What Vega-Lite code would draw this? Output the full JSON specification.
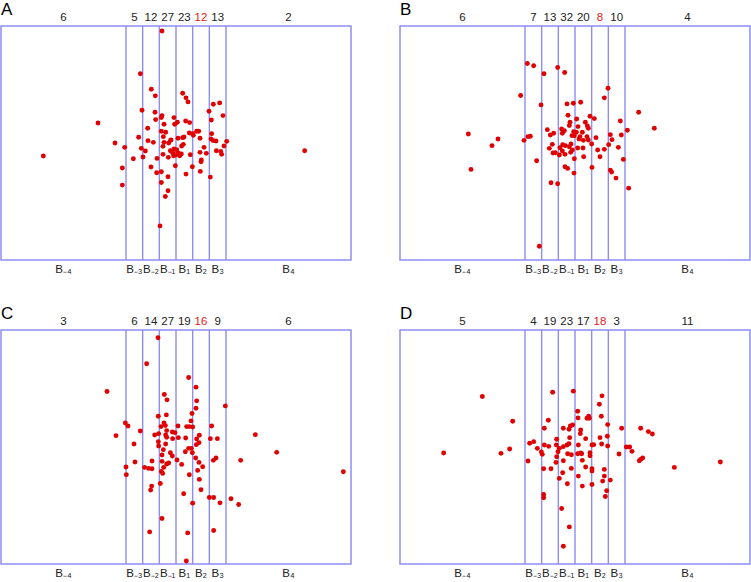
{
"$schema": "https://vega.github.io/schema/vega-lite/v6.json",
"background": "white",
"padding": {"left": 0, "top": 0, "right": 0, "bottom": 0},
"config": {
 "view": {"stroke": "#8d8df2", "strokeWidth": 1.5},
 "title": {"anchor": "start", "frame": "group", "fontSize": 17, "fontWeight": "normal", "font": "Liberation Sans", "color": "#000000", "offset": -7},
 "text": {"font": "Liberation Sans"}
},
"datasets": {
 "lines": [{"x": -3}, {"x": -2}, {"x": -1}, {"x": 0}, {"x": 1}, {"x": 2}, {"x": 3}],
 "bins": [
  {"panel": "A", "x": -6.75, "label": "B₋₄", "n": 6}, {"panel": "A", "x": -2.5, "label": "B₋₃", "n": 5}, {"panel": "A", "x": -1.5, "label": "B₋₂", "n": 12}, {"panel": "A", "x": -0.5, "label": "B₋₁", "n": 27}, {"panel": "A", "x": 0.5, "label": "B₁", "n": 23}, {"panel": "A", "x": 1.5, "label": "B₂", "n": 12}, {"panel": "A", "x": 2.5, "label": "B₃", "n": 13}, {"panel": "A", "x": 6.75, "label": "B₄", "n": 2},
  {"panel": "B", "x": -6.75, "label": "B₋₄", "n": 6}, {"panel": "B", "x": -2.5, "label": "B₋₃", "n": 7}, {"panel": "B", "x": -1.5, "label": "B₋₂", "n": 13}, {"panel": "B", "x": -0.5, "label": "B₋₁", "n": 32}, {"panel": "B", "x": 0.5, "label": "B₁", "n": 20}, {"panel": "B", "x": 1.5, "label": "B₂", "n": 8}, {"panel": "B", "x": 2.5, "label": "B₃", "n": 10}, {"panel": "B", "x": 6.75, "label": "B₄", "n": 4},
  {"panel": "C", "x": -6.75, "label": "B₋₄", "n": 3}, {"panel": "C", "x": -2.5, "label": "B₋₃", "n": 6}, {"panel": "C", "x": -1.5, "label": "B₋₂", "n": 14}, {"panel": "C", "x": -0.5, "label": "B₋₁", "n": 27}, {"panel": "C", "x": 0.5, "label": "B₁", "n": 19}, {"panel": "C", "x": 1.5, "label": "B₂", "n": 16}, {"panel": "C", "x": 2.5, "label": "B₃", "n": 9}, {"panel": "C", "x": 6.75, "label": "B₄", "n": 6},
  {"panel": "D", "x": -6.75, "label": "B₋₄", "n": 5}, {"panel": "D", "x": -2.5, "label": "B₋₃", "n": 4}, {"panel": "D", "x": -1.5, "label": "B₋₂", "n": 19}, {"panel": "D", "x": -0.5, "label": "B₋₁", "n": 23}, {"panel": "D", "x": 0.5, "label": "B₁", "n": 17}, {"panel": "D", "x": 1.5, "label": "B₂", "n": 18}, {"panel": "D", "x": 2.5, "label": "B₃", "n": 3}, {"panel": "D", "x": 6.75, "label": "B₄", "n": 11}
 ],
 "points": [
  {"panel":"A","x":-0.84,"y":6.7},{"panel":"A","x":-2.14,"y":4.14},{"panel":"A","x":-1.48,"y":3.22},{"panel":"A","x":-1.24,"y":2.82},{"panel":"A","x":0.4,"y":2.98},{"panel":"A","x":0.6,"y":2.7},{"panel":"A","x":0.72,"y":2.46},{"panel":"A","x":2.24,"y":2.32},{"panel":"A","x":2.62,"y":2.4},{"panel":"A","x":1.98,"y":1.9},{"panel":"A","x":2.82,"y":1.64},{"panel":"A","x":-2.04,"y":1.96},{"panel":"A","x":-1.26,"y":1.84},{"panel":"A","x":-1.22,"y":1.4},{"panel":"A","x":-0.84,"y":1.64},{"panel":"A","x":-0.88,"y":1.52},{"panel":"A","x":-0.72,"y":1.12},{"panel":"A","x":-0.12,"y":1.52},{"panel":"A","x":0.08,"y":1.24},{"panel":"A","x":-0.08,"y":1.12},{"panel":"A","x":0.58,"y":1.32},{"panel":"A","x":0.82,"y":1.22},{"panel":"A","x":-4.68,"y":1.2},{"panel":"A","x":-1.7,"y":0.88},{"panel":"A","x":-2.24,"y":0.34},{"panel":"A","x":-1.68,"y":0.14},{"panel":"A","x":-1.36,"y":0.04},{"panel":"A","x":-0.88,"y":0.7},{"panel":"A","x":-0.62,"y":0.64},{"panel":"A","x":-3.66,"y":0},{"panel":"A","x":-3.08,"y":-0.26},{"panel":"A","x":-2.08,"y":-0.32},{"panel":"A","x":-1.84,"y":-0.48},{"panel":"A","x":-1.98,"y":-0.84},{"panel":"A","x":-2.56,"y":-0.94},{"panel":"A","x":-3.22,"y":-1.5},{"panel":"A","x":-3.22,"y":-2.52},{"panel":"A","x":-7.96,"y":-0.78},{"panel":"A","x":7.72,"y":-0.46},{"panel":"A","x":-1.5,"y":-1.44},{"panel":"A","x":-1.14,"y":-0.92},{"panel":"A","x":-1.16,"y":-1.78},{"panel":"A","x":-0.88,"y":-1.72},{"panel":"A","x":-0.88,"y":-2.36},{"panel":"A","x":-0.48,"y":-2.02},{"panel":"A","x":-0.48,"y":-2.86},{"panel":"A","x":-0.64,"y":-3.2},{"panel":"A","x":-0.96,"y":-4.96},{"panel":"A","x":-0.04,"y":-1.36},{"panel":"A","x":0.6,"y":-1.86},{"panel":"A","x":0.98,"y":-1.42},{"panel":"A","x":0.86,"y":-0.7},{"panel":"A","x":1.46,"y":-1.7},{"panel":"A","x":1.5,"y":-1.12},{"panel":"A","x":1.52,"y":-1.02},{"panel":"A","x":2.06,"y":-2.04},{"panel":"A","x":1.44,"y":-0.56},{"panel":"A","x":1.82,"y":-0.62},{"panel":"A","x":1.68,"y":-0.26},{"panel":"A","x":1.44,"y":0.28},{"panel":"A","x":1.24,"y":0.7},{"panel":"A","x":1.36,"y":0.7},{"panel":"A","x":1.0,"y":0.56},{"panel":"A","x":0.8,"y":0.6},{"panel":"A","x":1.04,"y":0.46},{"panel":"A","x":2.14,"y":0.56},{"panel":"A","x":2.1,"y":0.24},{"panel":"A","x":2.24,"y":0.14},{"panel":"A","x":2.4,"y":0.12},{"panel":"A","x":2.42,"y":-0.46},{"panel":"A","x":2.68,"y":-0.5},{"panel":"A","x":2.74,"y":-0.68},{"panel":"A","x":2.88,"y":-0.18},{"panel":"A","x":3.04,"y":0.1},{"panel":"A","x":2.12,"y":1.38},{"panel":"A","x":0.4,"y":0.32},{"panel":"A","x":0.48,"y":0.36},{"panel":"A","x":0.44,"y":-0.08},{"panel":"A","x":0.34,"y":-0.18},{"panel":"A","x":0.12,"y":0.28},{"panel":"A","x":-0.32,"y":0.16},{"panel":"A","x":-0.44,"y":0},{"panel":"A","x":-0.72,"y":0.04},{"panel":"A","x":-0.78,"y":-0.2},{"panel":"A","x":-0.78,"y":-0.68},{"panel":"A","x":-0.34,"y":-0.46},{"panel":"A","x":-0.2,"y":-0.6},{"panel":"A","x":-0.12,"y":-0.36},{"panel":"A","x":0.04,"y":-0.4},{"panel":"A","x":0.14,"y":-0.6},{"panel":"A","x":0.32,"y":-0.66},{"panel":"A","x":0,"y":-0.7},{"panel":"A","x":0.22,"y":-0.76},{"panel":"A","x":-0.14,"y":-0.76},{"panel":"A","x":-0.46,"y":-0.86},{"panel":"A","x":-0.76,"y":0.38},{"panel":"A","x":-0.3,"y":0.18},
  {"panel":"B","x":-2.86,"y":4.76},{"panel":"B","x":-2.48,"y":4.62},{"panel":"B","x":-1.86,"y":4.14},{"panel":"B","x":-1.04,"y":4.52},{"panel":"B","x":-0.62,"y":4.22},{"panel":"B","x":1.98,"y":3.28},{"panel":"B","x":1.76,"y":2.7},{"panel":"B","x":-3.26,"y":2.84},{"panel":"B","x":-2.04,"y":2.28},{"panel":"B","x":-0.48,"y":2.34},{"panel":"B","x":-0.1,"y":2.38},{"panel":"B","x":0.34,"y":2.44},{"panel":"B","x":3.82,"y":1.84},{"panel":"B","x":4.76,"y":0.88},{"panel":"B","x":-6.4,"y":0.54},{"panel":"B","x":-6.24,"y":-1.58},{"panel":"B","x":-4.98,"y":-0.16},{"panel":"B","x":-4.62,"y":0.24},{"panel":"B","x":-3.06,"y":0.16},{"panel":"B","x":-2.82,"y":0.38},{"panel":"B","x":-2.68,"y":0.4},{"panel":"B","x":-2.3,"y":-1.06},{"panel":"B","x":-2.14,"y":-6.18},{"panel":"B","x":-1.44,"y":-2.38},{"panel":"B","x":-1.04,"y":-2.44},{"panel":"B","x":-1.66,"y":0.8},{"panel":"B","x":-1.48,"y":0.48},{"panel":"B","x":-1.28,"y":0.58},{"panel":"B","x":-1.36,"y":-0.08},{"panel":"B","x":-1.54,"y":-0.32},{"panel":"B","x":-1.32,"y":-0.6},{"panel":"B","x":-1.18,"y":-0.58},{"panel":"B","x":-0.94,"y":-0.72},{"panel":"B","x":-0.8,"y":0.84},{"panel":"B","x":-0.76,"y":0.58},{"panel":"B","x":-0.64,"y":0.74},{"panel":"B","x":-0.42,"y":1.66},{"panel":"B","x":-0.3,"y":1.24},{"panel":"B","x":-0.34,"y":1.04},{"panel":"B","x":0.1,"y":1.44},{"panel":"B","x":0.18,"y":0.98},{"panel":"B","x":-0.08,"y":0.68},{"panel":"B","x":-0.18,"y":0.44},{"panel":"B","x":-0.04,"y":0.44},{"panel":"B","x":-0.74,"y":-0.1},{"panel":"B","x":-0.58,"y":-0.16},{"panel":"B","x":-0.9,"y":-0.28},{"panel":"B","x":-0.76,"y":-0.48},{"panel":"B","x":-0.6,"y":-0.68},{"panel":"B","x":-0.34,"y":-0.22},{"panel":"B","x":-0.24,"y":-0.06},{"panel":"B","x":-0.16,"y":-0.42},{"panel":"B","x":-0.26,"y":-0.56},{"panel":"B","x":-0.04,"y":-0.94},{"panel":"B","x":-0.6,"y":-1.42},{"panel":"B","x":-0.44,"y":-1.52},{"panel":"B","x":-0.06,"y":-1.8},{"panel":"B","x":0.3,"y":0.38},{"panel":"B","x":0.44,"y":0.64},{"panel":"B","x":0.62,"y":1.24},{"panel":"B","x":0.74,"y":1.02},{"panel":"B","x":0.8,"y":0.88},{"panel":"B","x":0.9,"y":1.6},{"panel":"B","x":1.16,"y":1.46},{"panel":"B","x":0.72,"y":0.38},{"panel":"B","x":0.8,"y":0.18},{"panel":"B","x":1.0,"y":-0.06},{"panel":"B","x":1.26,"y":0.32},{"panel":"B","x":0.48,"y":-0.3},{"panel":"B","x":0.52,"y":-0.82},{"panel":"B","x":1.02,"y":-1.46},{"panel":"B","x":1.36,"y":-0.42},{"panel":"B","x":1.5,"y":-0.82},{"panel":"B","x":1.76,"y":-0.38},{"panel":"B","x":2.02,"y":-0.1},{"panel":"B","x":2.12,"y":0.5},{"panel":"B","x":2.22,"y":0.2},{"panel":"B","x":2.72,"y":1.32},{"panel":"B","x":2.78,"y":0.48},{"panel":"B","x":3.14,"y":0.76},{"panel":"B","x":2.6,"y":-0.26},{"panel":"B","x":2.9,"y":-0.98},{"panel":"B","x":2.12,"y":-1.62},{"panel":"B","x":2.2,"y":-1.74},{"panel":"B","x":2.46,"y":-2.1},{"panel":"B","x":3.22,"y":-2.7},{"panel":"B","x":0.08,"y":0.64},{"panel":"B","x":0.24,"y":0.24},{"panel":"B","x":0.5,"y":0.16},{"panel":"B","x":0.16,"y":-0.3},
  {"panel":"C","x":-1.08,"y":6.54},{"panel":"C","x":-1.76,"y":4.98},{"panel":"C","x":0.76,"y":4.16},{"panel":"C","x":1.2,"y":3.58},{"panel":"C","x":-4.14,"y":3.32},{"panel":"C","x":-0.7,"y":3.14},{"panel":"C","x":-0.54,"y":2.82},{"panel":"C","x":1.24,"y":2.76},{"panel":"C","x":2.96,"y":2.46},{"panel":"C","x":1.2,"y":2.32},{"panel":"C","x":0.96,"y":2.0},{"panel":"C","x":-1.06,"y":1.84},{"panel":"C","x":-0.58,"y":1.92},{"panel":"C","x":0.9,"y":1.56},{"panel":"C","x":-3.04,"y":1.44},{"panel":"C","x":-2.88,"y":1.26},{"panel":"C","x":-3.6,"y":0.68},{"panel":"C","x":-2.14,"y":0.96},{"panel":"C","x":-2.52,"y":0.18},{"panel":"C","x":-2.46,"y":-0.9},{"panel":"C","x":-3.0,"y":-1.2},{"panel":"C","x":-2.98,"y":-1.66},{"panel":"C","x":-0.72,"y":1.44},{"panel":"C","x":-0.64,"y":1.28},{"panel":"C","x":-0.9,"y":1.22},{"panel":"C","x":-1.04,"y":0.8},{"panel":"C","x":-1.28,"y":0.72},{"panel":"C","x":-0.62,"y":0.72},{"panel":"C","x":-0.56,"y":0.58},{"panel":"C","x":-0.22,"y":0.9},{"panel":"C","x":-0.06,"y":0.86},{"panel":"C","x":0.12,"y":1.26},{"panel":"C","x":0.14,"y":0.56},{"panel":"C","x":-0.2,"y":0.5},{"panel":"C","x":0.64,"y":1.22},{"panel":"C","x":0.8,"y":1.22},{"panel":"C","x":1.0,"y":1.2},{"panel":"C","x":0.58,"y":0.54},{"panel":"C","x":1.4,"y":0.7},{"panel":"C","x":1.24,"y":0.48},{"panel":"C","x":1.38,"y":0.26},{"panel":"C","x":1.22,"y":0.14},{"panel":"C","x":-1.06,"y":0.32},{"panel":"C","x":-1.04,"y":0.06},{"panel":"C","x":-0.62,"y":0.18},{"panel":"C","x":-0.76,"y":-0.16},{"panel":"C","x":-0.34,"y":-0.34},{"panel":"C","x":-0.22,"y":-0.54},{"panel":"C","x":-0.84,"y":-0.48},{"panel":"C","x":-0.84,"y":-0.86},{"panel":"C","x":-0.56,"y":-1.02},{"panel":"C","x":-0.44,"y":-0.96},{"panel":"C","x":-0.74,"y":-1.22},{"panel":"C","x":-0.88,"y":-1.46},{"panel":"C","x":-0.8,"y":-1.58},{"panel":"C","x":-1.44,"y":-0.84},{"panel":"C","x":-1.88,"y":-1.22},{"panel":"C","x":-1.64,"y":-1.28},{"panel":"C","x":-1.44,"y":-1.3},{"panel":"C","x":0.06,"y":-0.78},{"panel":"C","x":0.34,"y":-1.04},{"panel":"C","x":0.56,"y":-0.28},{"panel":"C","x":0.76,"y":-0.08},{"panel":"C","x":0.98,"y":-0.34},{"panel":"C","x":1.18,"y":-0.66},{"panel":"C","x":1.38,"y":-0.92},{"panel":"C","x":1.6,"y":-1.18},{"panel":"C","x":1.3,"y":-1.4},{"panel":"C","x":1.4,"y":-1.94},{"panel":"C","x":1.5,"y":-2.56},{"panel":"C","x":0.8,"y":-1.66},{"panel":"C","x":0.46,"y":-2.8},{"panel":"C","x":1.0,"y":-3.36},{"panel":"C","x":-0.94,"y":-2.18},{"panel":"C","x":-1.46,"y":-2.34},{"panel":"C","x":-1.52,"y":-2.58},{"panel":"C","x":-0.84,"y":-4.28},{"panel":"C","x":-1.58,"y":-5.08},{"panel":"C","x":0.7,"y":-5.14},{"panel":"C","x":0.62,"y":-6.82},{"panel":"C","x":2.14,"y":1.26},{"panel":"C","x":2.06,"y":0.5},{"panel":"C","x":2.48,"y":0.5},{"panel":"C","x":2.24,"y":-0.8},{"panel":"C","x":2.4,"y":-0.66},{"panel":"C","x":2.0,"y":-3.02},{"panel":"C","x":2.26,"y":-3.02},{"panel":"C","x":2.64,"y":-3.34},{"panel":"C","x":3.3,"y":-3.1},{"panel":"C","x":3.76,"y":-3.44},{"panel":"C","x":2.26,"y":-5.0},{"panel":"C","x":3.88,"y":-0.8},{"panel":"C","x":4.76,"y":0.74},{"panel":"C","x":6.04,"y":-0.32},{"panel":"C","x":10.04,"y":-1.48},{"panel":"C","x":-0.56,"y":0.98},{"panel":"C","x":0.92,"y":-0.08},
  {"panel":"D","x":-5.56,"y":3.02},{"panel":"D","x":-1.34,"y":3.28},{"panel":"D","x":-0.1,"y":3.34},{"panel":"D","x":1.62,"y":3.06},{"panel":"D","x":1.46,"y":2.56},{"panel":"D","x":1.58,"y":1.84},{"panel":"D","x":0.16,"y":2.14},{"panel":"D","x":0.18,"y":1.74},{"panel":"D","x":0.72,"y":1.72},{"panel":"D","x":0.82,"y":1.84},{"panel":"D","x":0.86,"y":1.72},{"panel":"D","x":-3.74,"y":1.54},{"panel":"D","x":-1.6,"y":1.6},{"panel":"D","x":-1.84,"y":1.12},{"panel":"D","x":-0.7,"y":1.12},{"panel":"D","x":-0.36,"y":1.06},{"panel":"D","x":-0.28,"y":1.26},{"panel":"D","x":-0.14,"y":1.32},{"panel":"D","x":0.34,"y":1.02},{"panel":"D","x":0.32,"y":0.8},{"panel":"D","x":0.64,"y":0.5},{"panel":"D","x":1.96,"y":1.34},{"panel":"D","x":2.8,"y":1.12},{"panel":"D","x":3.94,"y":1.12},{"panel":"D","x":4.4,"y":0.92},{"panel":"D","x":4.64,"y":0.78},{"panel":"D","x":-0.32,"y":0.56},{"panel":"D","x":-0.36,"y":0.2},{"panel":"D","x":-0.48,"y":0.12},{"panel":"D","x":-0.7,"y":0.02},{"panel":"D","x":-1.1,"y":0.46},{"panel":"D","x":-1.12,"y":0.12},{"panel":"D","x":-1.02,"y":-0.28},{"panel":"D","x":-1.1,"y":-0.58},{"panel":"D","x":-1.14,"y":-0.92},{"panel":"D","x":-0.94,"y":-0.08},{"panel":"D","x":-2.72,"y":0.22},{"panel":"D","x":-2.48,"y":0.32},{"panel":"D","x":-2.26,"y":-0.08},{"panel":"D","x":-2.02,"y":-0.3},{"panel":"D","x":-1.96,"y":-0.44},{"panel":"D","x":-1.84,"y":0.12},{"panel":"D","x":-1.58,"y":0.04},{"panel":"D","x":-2.82,"y":-0.84},{"panel":"D","x":-4.44,"y":-0.38},{"panel":"D","x":-3.92,"y":-0.12},{"panel":"D","x":-7.88,"y":-0.36},{"panel":"D","x":-1.88,"y":-1.3},{"panel":"D","x":-1.44,"y":-1.3},{"panel":"D","x":-1.88,"y":-2.84},{"panel":"D","x":-1.88,"y":-3.04},{"panel":"D","x":-0.94,"y":-1.88},{"panel":"D","x":-0.74,"y":-1.54},{"panel":"D","x":-0.7,"y":-0.82},{"panel":"D","x":-0.46,"y":-2.2},{"panel":"D","x":-0.8,"y":-3.68},{"panel":"D","x":-0.34,"y":-4.78},{"panel":"D","x":-0.7,"y":-5.94},{"panel":"D","x":-0.44,"y":-0.4},{"panel":"D","x":-0.22,"y":-0.46},{"panel":"D","x":-0.22,"y":-1.28},{"panel":"D","x":0.2,"y":0.12},{"panel":"D","x":0.16,"y":-0.4},{"panel":"D","x":0.4,"y":-0.4},{"panel":"D","x":0.44,"y":-0.8},{"panel":"D","x":0.64,"y":-1.2},{"panel":"D","x":0.2,"y":-1.74},{"panel":"D","x":0.44,"y":-2.34},{"panel":"D","x":0.9,"y":-0.34},{"panel":"D","x":0.9,"y":-0.52},{"panel":"D","x":1.02,"y":0.12},{"panel":"D","x":1.12,"y":0.14},{"panel":"D","x":1.02,"y":-1.3},{"panel":"D","x":1.02,"y":-1.44},{"panel":"D","x":1.02,"y":-2.24},{"panel":"D","x":1.5,"y":0.56},{"panel":"D","x":1.6,"y":0.18},{"panel":"D","x":1.94,"y":0.64},{"panel":"D","x":1.96,"y":0.06},{"panel":"D","x":1.76,"y":-1.34},{"panel":"D","x":1.76,"y":-1.74},{"panel":"D","x":1.66,"y":-2.04},{"panel":"D","x":2.12,"y":-1.98},{"panel":"D","x":1.9,"y":-2.62},{"panel":"D","x":1.82,"y":-2.96},{"panel":"D","x":2.64,"y":-0.42},{"panel":"D","x":3.08,"y":0},{"panel":"D","x":3.28,"y":0},{"panel":"D","x":3.42,"y":-0.26},{"panel":"D","x":3.86,"y":-0.82},{"panel":"D","x":3.94,"y":-0.74},{"panel":"D","x":4.06,"y":-0.66},{"panel":"D","x":5.96,"y":-1.22},{"panel":"D","x":8.72,"y":-0.9},{"panel":"D","x":0.34,"y":-0.36}
 ]
},
"columns": 2,
"spacing": {"row": 70, "column": 49},
"bounds": "flush",
"concat": [
 {"width": 350, "height": 234, "title": {"text": "A"},
  "layer": [
   {"data": {"name": "lines"}, "mark": {"type": "rule", "color": "#8d8df2", "strokeWidth": 1.4}, "encoding": {"x": {"field": "x", "type": "quantitative", "scale": {"domain": [-10.5, 10.5], "nice": false, "zero": false}, "axis": null}}},
   {"data": {"name": "bins"}, "transform": [{"filter": "datum.panel === 'A'"}], "mark": {"type": "text", "baseline": "bottom", "dy": -3, "fontSize": 11.5}, "encoding": {"x": {"field": "x", "type": "quantitative"}, "y": {"datum": 7, "type": "quantitative", "scale": {"domain": [-7, 7], "nice": false, "zero": false}, "axis": null}, "text": {"field": "n"}, "color": {"condition": {"test": "datum.label === 'B₂'", "value": "#e41a1a"}, "value": "#222222"}}},
   {"data": {"name": "bins"}, "transform": [{"filter": "datum.panel === 'A'"}], "mark": {"type": "text", "baseline": "top", "dy": 4, "fontSize": 11.5, "color": "#222222"}, "encoding": {"x": {"field": "x", "type": "quantitative"}, "y": {"datum": -7, "type": "quantitative"}, "text": {"field": "label"}}},
   {"data": {"name": "points"}, "transform": [{"filter": "datum.panel === 'A'"}], "mark": {"type": "circle", "size": 24, "color": "#e00000", "opacity": 1}, "encoding": {"x": {"field": "x", "type": "quantitative"}, "y": {"field": "y", "type": "quantitative"}}}
  ]},
 {"width": 350, "height": 234, "title": {"text": "B"},
  "layer": [
   {"data": {"name": "lines"}, "mark": {"type": "rule", "color": "#8d8df2", "strokeWidth": 1.4}, "encoding": {"x": {"field": "x", "type": "quantitative", "scale": {"domain": [-10.5, 10.5], "nice": false, "zero": false}, "axis": null}}},
   {"data": {"name": "bins"}, "transform": [{"filter": "datum.panel === 'B'"}], "mark": {"type": "text", "baseline": "bottom", "dy": -3, "fontSize": 11.5}, "encoding": {"x": {"field": "x", "type": "quantitative"}, "y": {"datum": 7, "type": "quantitative", "scale": {"domain": [-7, 7], "nice": false, "zero": false}, "axis": null}, "text": {"field": "n"}, "color": {"condition": {"test": "datum.label === 'B₂'", "value": "#e41a1a"}, "value": "#222222"}}},
   {"data": {"name": "bins"}, "transform": [{"filter": "datum.panel === 'B'"}], "mark": {"type": "text", "baseline": "top", "dy": 4, "fontSize": 11.5, "color": "#222222"}, "encoding": {"x": {"field": "x", "type": "quantitative"}, "y": {"datum": -7, "type": "quantitative"}, "text": {"field": "label"}}},
   {"data": {"name": "points"}, "transform": [{"filter": "datum.panel === 'B'"}], "mark": {"type": "circle", "size": 24, "color": "#e00000", "opacity": 1}, "encoding": {"x": {"field": "x", "type": "quantitative"}, "y": {"field": "y", "type": "quantitative"}}}
  ]},
 {"width": 350, "height": 234, "title": {"text": "C"},
  "layer": [
   {"data": {"name": "lines"}, "mark": {"type": "rule", "color": "#8d8df2", "strokeWidth": 1.4}, "encoding": {"x": {"field": "x", "type": "quantitative", "scale": {"domain": [-10.5, 10.5], "nice": false, "zero": false}, "axis": null}}},
   {"data": {"name": "bins"}, "transform": [{"filter": "datum.panel === 'C'"}], "mark": {"type": "text", "baseline": "bottom", "dy": -3, "fontSize": 11.5}, "encoding": {"x": {"field": "x", "type": "quantitative"}, "y": {"datum": 7, "type": "quantitative", "scale": {"domain": [-7, 7], "nice": false, "zero": false}, "axis": null}, "text": {"field": "n"}, "color": {"condition": {"test": "datum.label === 'B₂'", "value": "#e41a1a"}, "value": "#222222"}}},
   {"data": {"name": "bins"}, "transform": [{"filter": "datum.panel === 'C'"}], "mark": {"type": "text", "baseline": "top", "dy": 4, "fontSize": 11.5, "color": "#222222"}, "encoding": {"x": {"field": "x", "type": "quantitative"}, "y": {"datum": -7, "type": "quantitative"}, "text": {"field": "label"}}},
   {"data": {"name": "points"}, "transform": [{"filter": "datum.panel === 'C'"}], "mark": {"type": "circle", "size": 24, "color": "#e00000", "opacity": 1}, "encoding": {"x": {"field": "x", "type": "quantitative"}, "y": {"field": "y", "type": "quantitative"}}}
  ]},
 {"width": 350, "height": 234, "title": {"text": "D"},
  "layer": [
   {"data": {"name": "lines"}, "mark": {"type": "rule", "color": "#8d8df2", "strokeWidth": 1.4}, "encoding": {"x": {"field": "x", "type": "quantitative", "scale": {"domain": [-10.5, 10.5], "nice": false, "zero": false}, "axis": null}}},
   {"data": {"name": "bins"}, "transform": [{"filter": "datum.panel === 'D'"}], "mark": {"type": "text", "baseline": "bottom", "dy": -3, "fontSize": 11.5}, "encoding": {"x": {"field": "x", "type": "quantitative"}, "y": {"datum": 7, "type": "quantitative", "scale": {"domain": [-7, 7], "nice": false, "zero": false}, "axis": null}, "text": {"field": "n"}, "color": {"condition": {"test": "datum.label === 'B₂'", "value": "#e41a1a"}, "value": "#222222"}}},
   {"data": {"name": "bins"}, "transform": [{"filter": "datum.panel === 'D'"}], "mark": {"type": "text", "baseline": "top", "dy": 4, "fontSize": 11.5, "color": "#222222"}, "encoding": {"x": {"field": "x", "type": "quantitative"}, "y": {"datum": -7, "type": "quantitative"}, "text": {"field": "label"}}},
   {"data": {"name": "points"}, "transform": [{"filter": "datum.panel === 'D'"}], "mark": {"type": "circle", "size": 24, "color": "#e00000", "opacity": 1}, "encoding": {"x": {"field": "x", "type": "quantitative"}, "y": {"field": "y", "type": "quantitative"}}}
  ]}
]
}
